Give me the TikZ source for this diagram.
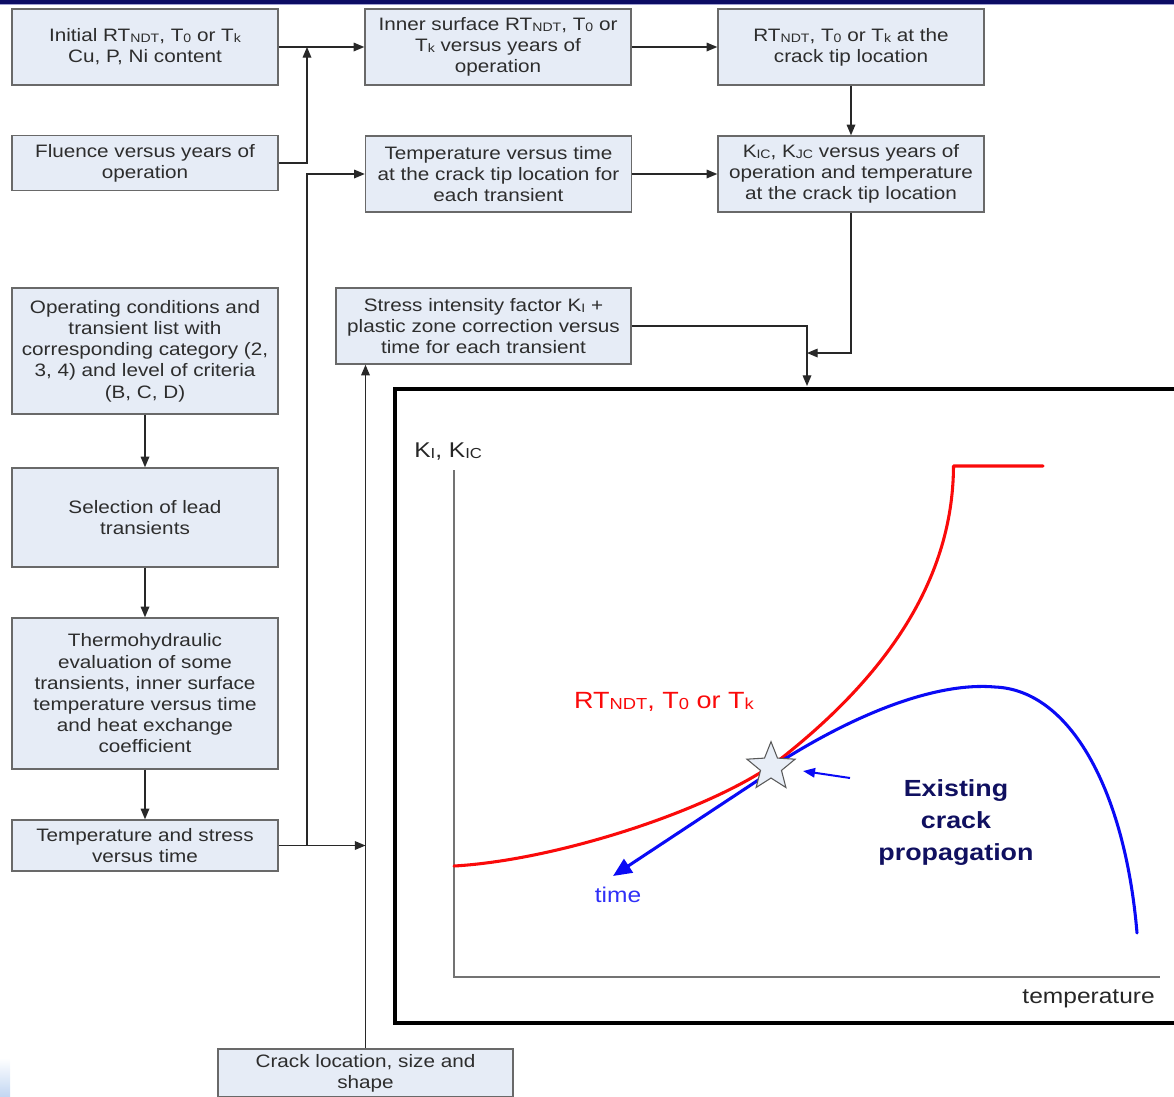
\documentclass[tikz,border=0pt]{standalone}
\usepackage{fontspec}
\usepackage{graphicx}
\setmainfont{Liberation Sans}[FakeStretch=1.15]
\usetikzlibrary{arrows.meta,shapes.geometric}
\definecolor{boxfill}{RGB}{230,236,246}
\definecolor{boxline}{RGB}{105,105,105}
\definecolor{boxtext}{RGB}{45,45,45}
\definecolor{connc}{RGB}{40,40,40}
\definecolor{axisc}{RGB}{115,115,115}
\definecolor{redc}{RGB}{250,10,10}
\definecolor{bluec}{RGB}{10,10,245}
\definecolor{navyc}{RGB}{16,16,96}
\definecolor{bandc}{RGB}{12,12,100}
\definecolor{bandl}{RGB}{160,160,210}
\definecolor{starfill}{RGB}{232,238,247}
\definecolor{gradc}{RGB}{195,215,242}
\newcommand\sbt[1]{\raisebox{-0.12ex}{\scalebox{0.68}{#1}}}
\tikzset{
  box/.style={draw=boxline, fill=boxfill, line width=1.1pt, inner sep=0pt, align=center,
    text=boxtext, font=\fontsize{13.5}{15.9}\selectfont},
  conn/.style={draw=connc, line width=0.9pt, -{Triangle[length=8pt,width=6.5pt]}},
  frame/.style={draw=black, line width=2.3pt, inner sep=0pt},
  axis/.style={draw=axisc, line width=1.5pt},
  curve/.style={line width=2.3pt, line cap=round, line join=round},
}
\begin{document}
\begin{tikzpicture}[x=0.75pt, y=-0.75pt]
\useasboundingbox (0,0) rectangle (1174,1096);
% slide decorations
\fill[bandc] (0,0) rectangle (1174,4);
\fill[bandl] (0,4) rectangle (1174,5);
\shade[top color=white, bottom color=gradc] (0,1058) rectangle (10,1096);

% boxes
\node[box, minimum width=199.5pt, minimum height=57pt] (B1) at (145,47)
  {Initial RT\sbt{NDT}, T\sbt{0} or T\sbt{k}\\Cu, P, Ni content};
\node[box, minimum width=199.5pt, minimum height=41.25pt] (B2) at (145,163)
  {Fluence versus years of\\operation};
\node[box, minimum width=199.5pt, minimum height=57pt] (B3) at (498,47)
  {Inner surface RT\sbt{NDT}, T\sbt{0} or\\T\sbt{k} versus years of\\operation};
\node[box, minimum width=199.5pt, minimum height=57pt] (B4) at (498.5,174)
  {Temperature versus time\\at the crack tip location for\\each transient};
\node[box, minimum width=199.5pt, minimum height=57pt] (B5) at (851,47)
  {RT\sbt{NDT}, T\sbt{0} or T\sbt{k} at the\\crack tip location};
\node[box, minimum width=199.5pt, minimum height=57pt] (B6) at (851,174)
  {K\sbt{IC}, K\sbt{JC} versus years of\\operation and temperature\\at the crack tip location};
\node[box, minimum width=221.25pt, minimum height=57pt] (B7) at (483.5,326)
  {Stress intensity factor K\sbt{I} +\\plastic zone correction versus\\time for each transient};
\node[box, minimum width=199.5pt, minimum height=94.5pt] (B8) at (145,351)
  {Operating conditions and\\transient list with\\corresponding category (2,\\3, 4) and level of criteria\\(B, C, D)};
\node[box, minimum width=199.5pt, minimum height=74.25pt] (B9) at (145,517.5)
  {Selection of lead\\transients};
\node[box, minimum width=199.5pt, minimum height=113.25pt] (B10) at (145,693.5)
  {Thermohydraulic\\evaluation of some\\transients, inner surface\\temperature versus time\\and heat exchange\\coefficient};
\node[box, minimum width=199.5pt, minimum height=38.25pt] (B11) at (145,845.5)
  {Temperature and stress\\versus time};
\node[box, minimum width=221.25pt, minimum height=36pt] (B12) at (365.5,1073)
  {Crack location, size and\\shape};

% graph frame
\node[frame, minimum width=589.5pt, minimum height=475.5pt] (F) at (788,706) {};

% connectors
\coordinate (j1) at (307,47);
\coordinate (j3) at (807,353);
\draw[conn] (B1.east) -- (B3.west);
\draw[conn] (B2.east) -| (j1);
\draw[conn] (B3.east) -- (B5.west);
\draw[conn] (B5.south) -- (B6.north);
\draw[conn] (B4.east) -- (B6.west);
\draw[conn] (B6.south) |- (j3);
\draw[conn, shorten >=1.1pt] (B7.east) -| (j3 |- F.north);
\draw[conn] (B8.south) -- (B9.north);
\draw[conn] (B9.south) -- (B10.north);
\draw[conn] (B10.south) -- (B11.north);
\draw[conn] (B11.east) -- (B12.north |- B11.east);
\draw[conn] (j1 |- B11.east) |- (B4.west);
\draw[conn] (B12.north) -- (B12.north |- B7.south);

% chart
\draw[axis] (454,470) -- (454,977) -- (1160,977);
\node[anchor=base west, inner sep=0pt, text=black!85, font=\fontsize{16}{19}\selectfont] (ky) at (414,457) {K\sbt{I}, K\sbt{IC}};
\node[anchor=base east, inner sep=0pt, text=black!85, font=\fontsize{16}{19}\selectfont] (kx) at (1155,1003) {temperature};

\draw[curve, redc] (454,866) .. controls (560,860) and (720,807) .. (783,757)
  .. controls (880,680) and (953,585) .. (953.5,466) -- (1043,466);
\draw[curve, bluec] (772,767) .. controls (860,710) and (940,682) .. (995,687)
  .. controls (1070,690) and (1125,790) .. (1137,933);
\draw[curve, bluec, line cap=butt, -{Triangle[length=14pt,width=12pt]}] (775,769) -- (613,876);
\draw[bluec, line width=1.5pt, -{Triangle[length=9pt,width=7pt]}] (850,778) -- (803,771);

\node[star, star points=5, star point ratio=2.3, draw=black!65, line width=0.8pt, fill=starfill, minimum size=38pt, inner sep=0pt] (st) at (771,767) {};

\node[anchor=base, inner sep=0pt, text=redc, font=\fontsize{17.6}{20}\selectfont] (rl) at (664,708) {RT\sbt{NDT}, T\sbt{0} or T\sbt{k}};
\node[anchor=base, inner sep=0pt, text=bluec!85!white, font=\fontsize{16}{19}\selectfont] (tl) at (618,902) {time};
\node[align=center, inner sep=0pt, text=navyc, font=\bfseries\fontsize{17.5}{24}\selectfont] (ex) at (956,823) {Existing\\crack\\propagation};
\end{tikzpicture}
\end{document}
